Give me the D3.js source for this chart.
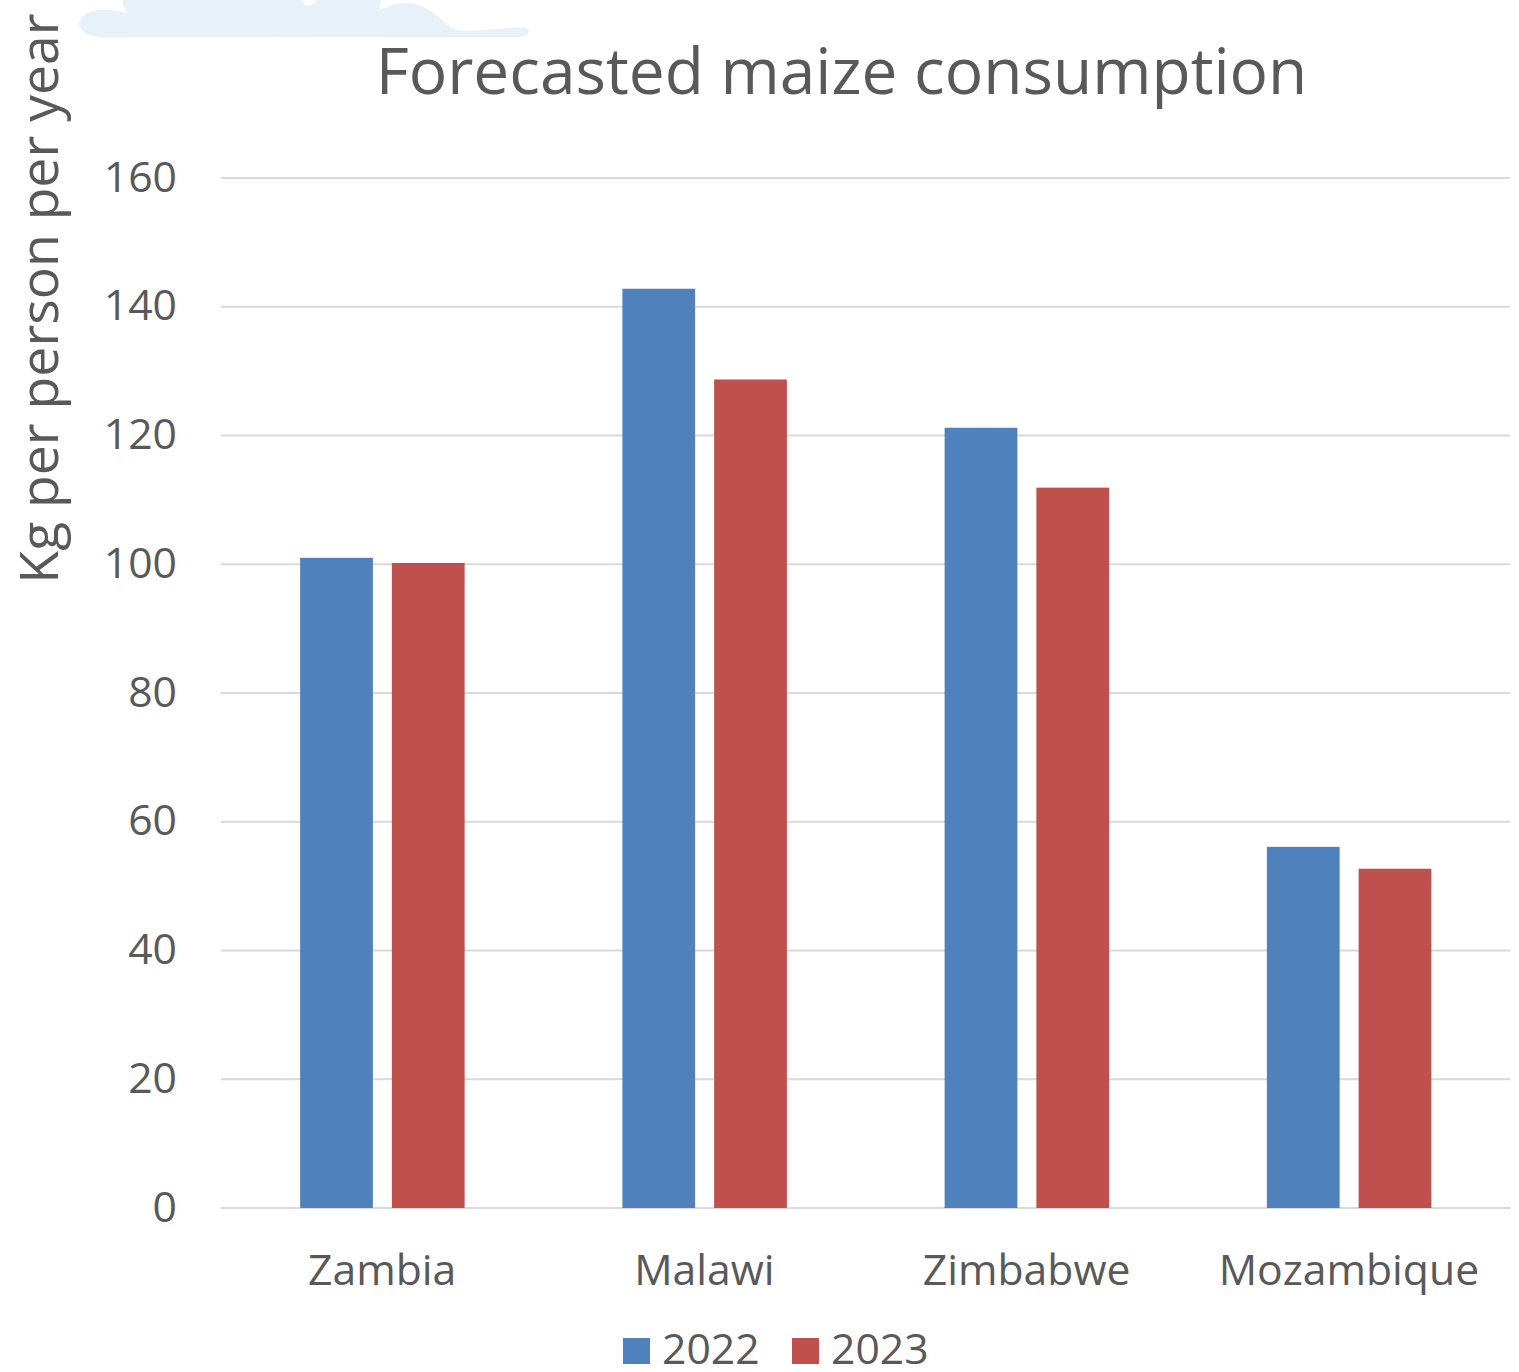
<!DOCTYPE html>
<html>
<head>
<meta charset="utf-8">
<script src="https://cdn.jsdelivr.net/npm/d3@7"></script>
<style>
  html, body { margin: 0; padding: 0; background: #fff; }
  svg { display: block; }
  text { font-family: "Open Sans", sans-serif; fill: #595959; }
</style>
</head>
<body>
<svg id="chart" width="1519" height="1372"></svg>
<script>
const countries = ['Zambia', 'Malawi', 'Zimbabwe', 'Mozambique'];
const years = ['2022', '2023'];
const values2022 = [101, 142.8, 121.2, 56.1];
const values2023 = [100.2, 128.7, 111.9, 52.7];
const yTicks = [0, 20, 40, 60, 80, 100, 120, 140, 160];
const colors = ['#4f81bd', '#c0504d'];

const svg = d3.select('#chart');

// faint cloud left over from the page banner behind the chart
svg.append('path')
  .attr('fill', '#e6f1fa')
  .attr('d', 'M122,0 C123,5 125,9 127.5,13 C115,10 106,9 98,10 C86,12 79,18 79,24 C80,31 88,37 103,37.5 L519,37 C527,36 529,33 529,31 C528,28 523,27 517,27.5 C494,29 471,32 457,30 C445,27 438,12 419,5 C407,1 393,3 379,11 C380,7 381,3 381,0 L317,0 C312,7 305,8 301,0 Z');

const x = d3.scaleBand().domain(countries).range([221, 1510]);
const y = d3.scaleLinear().domain([0, 160]).range([1208, 178]);
const xInner = d3.scaleBand().domain(years).range([0, 164.5]).paddingInner(0.207);

// gridlines
svg.append('g')
  .selectAll('line')
  .data(yTicks)
  .join('line')
  .attr('x1', 221).attr('x2', 1510)
  .attr('y1', d => y(d)).attr('y2', d => y(d))
  .attr('stroke', '#d9d9d9')
  .attr('stroke-width', 2);

// bars
years.forEach((yr, s) => {
  const vals = s === 0 ? values2022 : values2023;
  svg.append('g')
    .selectAll('rect')
    .data(countries)
    .join('rect')
    .attr('x', d => x(d) + x.bandwidth() / 2 - 82 + xInner(yr))
    .attr('y', (d, i) => y(vals[i]))
    .attr('width', xInner.bandwidth())
    .attr('height', (d, i) => y(0) - y(vals[i]))
    .attr('fill', colors[s]);
});

// y tick labels
svg.append('g')
  .selectAll('text')
  .data(yTicks)
  .join('text')
  .attr('x', 177)
  .attr('y', d => y(d) + 13.5)
  .attr('text-anchor', 'end')
  .attr('font-size', 42.7)
  .text(d => d);

// x labels
svg.append('g')
  .selectAll('text')
  .data(countries)
  .join('text')
  .attr('x', d => x(d) + x.bandwidth() / 2)
  .attr('y', 1285)
  .attr('text-anchor', 'middle')
  .attr('font-size', 42.7)
  .text(d => d);

svg.append('text')
  .attr('x', 841.5).attr('y', 94)
  .attr('text-anchor', 'middle')
  .attr('font-size', 64)
  .text('Forecasted maize consumption');

svg.append('text')
  .attr('transform', 'translate(58,298.5) rotate(-90)')
  .attr('text-anchor', 'middle')
  .attr('font-size', 53.5)
  .text('Kg per person per year');

// legend
const legendX = [623, 792];
const legend = svg.append('g')
  .selectAll('g')
  .data(years)
  .join('g')
  .attr('transform', (d, i) => `translate(${legendX[i]},1338)`);
legend.append('rect')
  .attr('width', 27).attr('height', 26)
  .attr('fill', (d, i) => colors[i]);
legend.append('text')
  .attr('x', 39).attr('y', 26)
  .attr('font-size', 42.7)
  .text(d => d);
</script>
</body>
</html>
